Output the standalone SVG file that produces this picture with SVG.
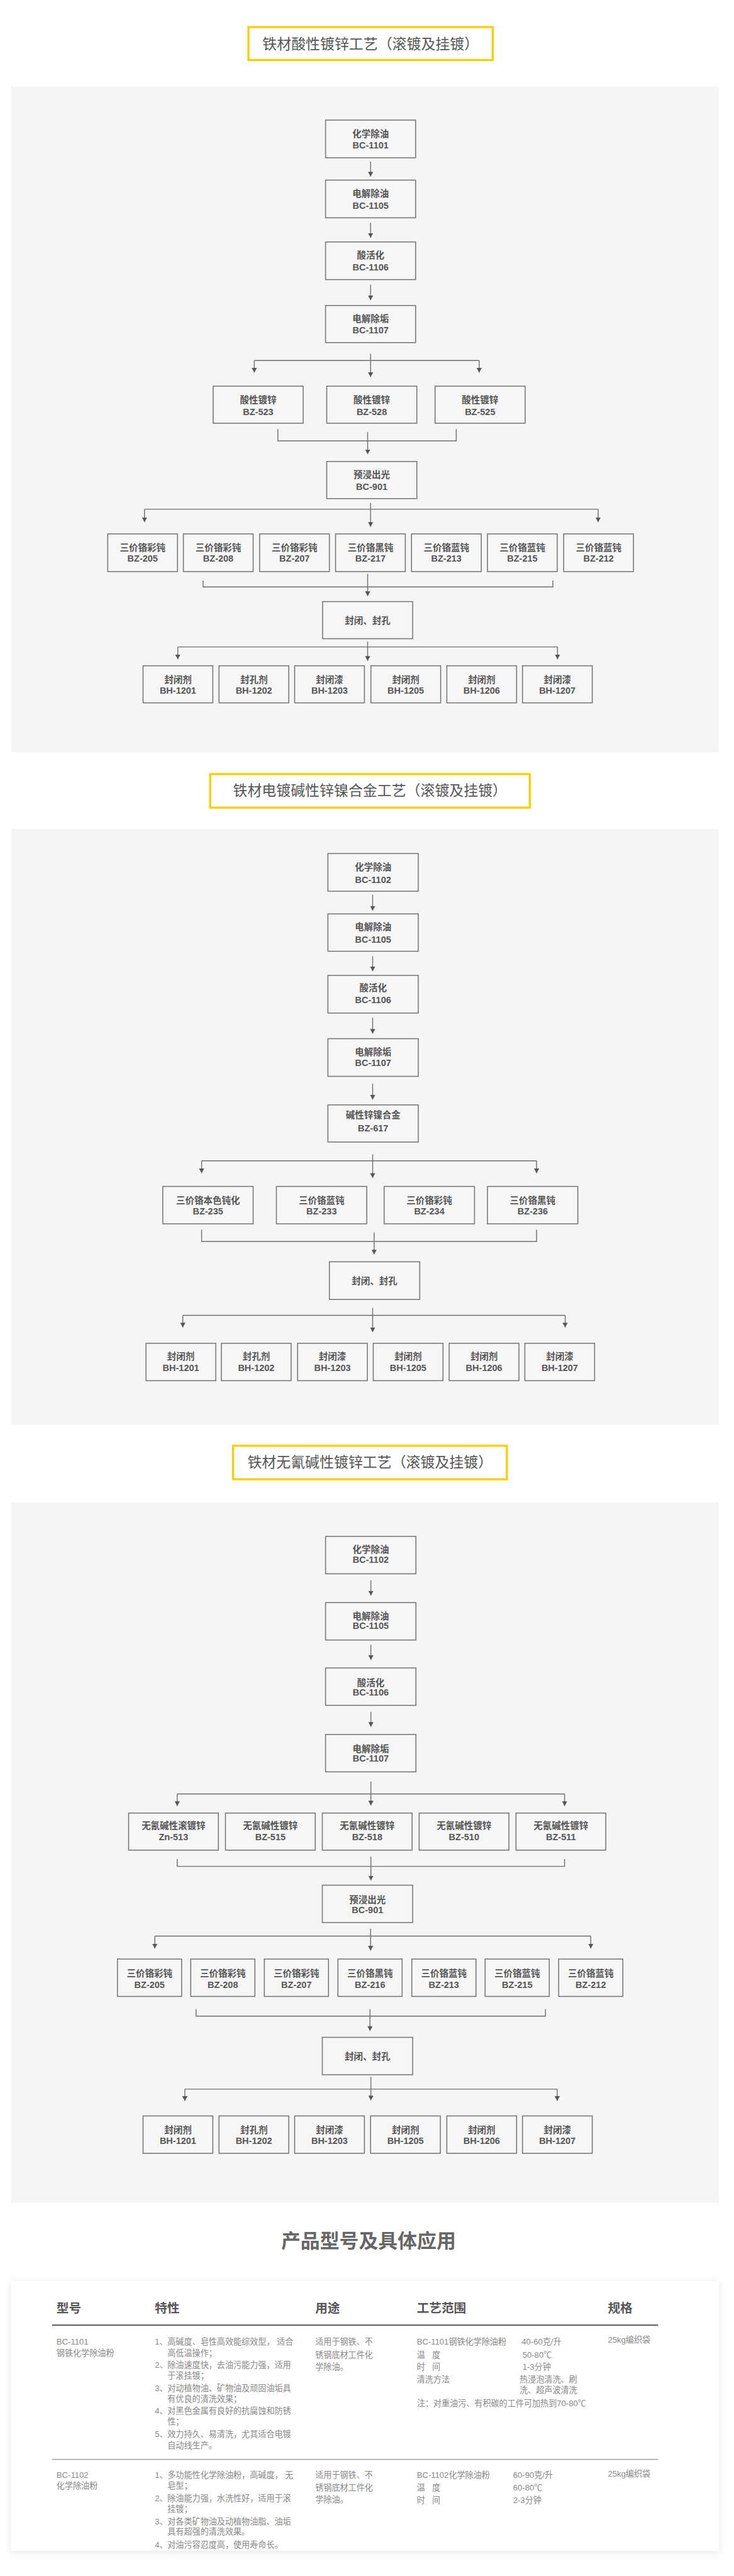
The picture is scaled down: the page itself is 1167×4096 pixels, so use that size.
<svg xmlns="http://www.w3.org/2000/svg" width="1167" height="4096" viewBox="0 0 1167 4096">
<style>
.panel{fill:#f5f5f5}
.tbox{fill:#fff;stroke:#FFCC00;stroke-width:3.5}
.ttl{font-family:'Liberation Sans','Noto Sans CJK SC',sans-serif;font-size:24.5px;fill:#555;text-anchor:middle}
.nb{fill:#f6f6f6;stroke:#727272;stroke-width:1.6}
.nt{font-family:'Liberation Sans','Noto Sans CJK SC',sans-serif;font-size:15.5px;font-weight:bold;fill:#555;text-anchor:middle}
.c{stroke:#6e6e6e;stroke-width:1.5;fill:none}
.a{marker-end:url(#ah)}
.h1{font-family:'Liberation Sans','Noto Sans CJK SC',sans-serif;font-size:33px;font-weight:bold;fill:#666;text-anchor:middle}
.th{font-family:'Liberation Sans','Noto Sans CJK SC',sans-serif;font-size:21px;font-weight:bold;fill:#555}
.td{font-family:'Liberation Sans','Noto Sans CJK SC',sans-serif;font-size:14px;fill:#888}
</style>
<defs>
<marker id="ah" viewBox="0 0 10 11" refX="10" refY="5.5" markerWidth="8" markerHeight="8.8" orient="auto" markerUnits="userSpaceOnUse"><path d="M0,0 L10,5.5 L0,11 z" fill="#555"/></marker>
<filter id="sh" x="-5%" y="-5%" width="110%" height="115%"><feDropShadow dx="0" dy="3" stdDeviation="7" flood-color="#000" flood-opacity="0.10"/></filter>
</defs>
<rect x="0" y="0" width="1167" height="4096" fill="#fff"/>
<g transform="scale(0.936)">
<g id="title1"><rect class="tbox" x="422" y="46" width="415" height="56"/><text class="ttl" x="629.5" y="83">铁材酸性镀锌工艺（滚镀及挂镀）</text></g>
<rect class="panel" x="19" y="147" width="1202" height="1131"/>
<g id="title2"><rect class="tbox" x="357" y="1315" width="543" height="57"/><text class="ttl" x="628.5" y="1352">铁材电镀碱性锌镍合金工艺（滚镀及挂镀）</text></g>
<rect class="panel" x="19" y="1408" width="1202" height="1012"/>
<g id="title3"><rect class="tbox" x="396" y="2456" width="465" height="57"/><text class="ttl" x="628.5" y="2493">铁材无氰碱性镀锌工艺（滚镀及挂镀）</text></g>
<rect class="panel" x="19" y="2552" width="1202" height="1190"/>

<g id="connectors">
<path class="c a" d="M629.5 274.5V300"/>
<path class="c a" d="M629.5 378.5V404"/>
<path class="c a" d="M629.5 483.5V510"/>
<path class="c a" d="M629.5 601V640.5"/>
<path class="c" d="M432 612.5H814"/>
<path class="c a" d="M432 612.5V633"/>
<path class="c a" d="M814 612.5V633"/>
<path class="c" d="M472 729V749H775V729"/>
<path class="c a" d="M624.5 734V771.5"/>
<path class="c a" d="M629.5 854.5V895"/>
<path class="c" d="M245.5 865H1016"/>
<path class="c a" d="M245.5 865V887"/>
<path class="c a" d="M1016 865V887"/>
<path class="c" d="M345 986V997H939V986"/>
<path class="c a" d="M624.5 975V1012.5"/>
<path class="c a" d="M624.5 1090V1122.5"/>
<path class="c" d="M302 1099H947"/>
<path class="c a" d="M302 1099V1120"/>
<path class="c a" d="M947 1099V1120"/>

<path class="c a" d="M633 1520V1547"/>
<path class="c a" d="M633 1624.5V1650"/>
<path class="c a" d="M633 1729V1756"/>
<path class="c a" d="M633 1841V1868"/>
<path class="c a" d="M633 1961V2001"/>
<path class="c" d="M342.5 1972H911.5"/>
<path class="c a" d="M342.5 1972V1993"/>
<path class="c a" d="M911.5 1972V1993"/>
<path class="c" d="M342.5 2089V2109H911.5V2089"/>
<path class="c a" d="M635.5 2093.5V2131"/>
<path class="c a" d="M633 2222V2263"/>
<path class="c" d="M310.5 2234.5H960"/>
<path class="c a" d="M310.5 2234.5V2255"/>
<path class="c a" d="M960 2234.5V2255"/>

<path class="c a" d="M630 2684.5V2710.5"/>
<path class="c a" d="M630 2794V2820"/>
<path class="c a" d="M630 2908V2933.5"/>
<path class="c a" d="M630 3026.5V3067"/>
<path class="c" d="M301 3047.5H959"/>
<path class="c a" d="M301 3047.5V3068"/>
<path class="c a" d="M959 3047.5V3068"/>
<path class="c" d="M301 3158V3170.5H959V3158"/>
<path class="c a" d="M630 3154V3194.5"/>
<path class="c a" d="M629.5 3276.5V3313.5"/>
<path class="c" d="M263 3289H1003.5"/>
<path class="c a" d="M263 3289V3310"/>
<path class="c a" d="M1003.5 3289V3310"/>
<path class="c" d="M333 3413V3425H926.5V3413"/>
<path class="c a" d="M628.5 3413V3450"/>
<path class="c a" d="M630 3528V3568"/>
<path class="c" d="M314 3549H946.5"/>
<path class="c a" d="M314 3549V3569"/>
<path class="c a" d="M946.5 3549V3569"/>
</g>

<g id="s1-n1"><rect class="nb" x="553" y="204" width="153" height="64"/><text class="nt"><tspan x="629.5" y="232.5">化学除油</tspan><tspan x="629.5" y="252.5">BC-1101</tspan></text></g>
<g id="s1-n2"><rect class="nb" x="553" y="306" width="153" height="64"/><text class="nt"><tspan x="629.5" y="334.5">电解除油</tspan><tspan x="629.5" y="354.5">BC-1105</tspan></text></g>
<g id="s1-n3"><rect class="nb" x="553" y="411" width="153" height="64"/><text class="nt"><tspan x="629.5" y="439.5">酸活化</tspan><tspan x="629.5" y="459.5">BC-1106</tspan></text></g>
<g id="s1-n4"><rect class="nb" x="553" y="519" width="153" height="63"/><text class="nt"><tspan x="629.5" y="547">电解除垢</tspan><tspan x="629.5" y="566">BC-1107</tspan></text></g>
<g id="s1-a1"><rect class="nb" x="362" y="656" width="153" height="63"/><text class="nt"><tspan x="438.5" y="685">酸性镀锌</tspan><tspan x="438.5" y="705">BZ-523</tspan></text></g>
<g id="s1-a2"><rect class="nb" x="555" y="656" width="153" height="63"/><text class="nt"><tspan x="631.5" y="685">酸性镀锌</tspan><tspan x="631.5" y="705">BZ-528</tspan></text></g>
<g id="s1-a3"><rect class="nb" x="739" y="656" width="153" height="63"/><text class="nt"><tspan x="815.5" y="685">酸性镀锌</tspan><tspan x="815.5" y="705">BZ-525</tspan></text></g>
<g id="s1-p"><rect class="nb" x="555" y="784" width="153" height="63"/><text class="nt"><tspan x="631.5" y="812">预浸出光</tspan><tspan x="631.5" y="832">BC-901</tspan></text></g>
<g id="s1-b1"><rect class="nb" x="183" y="907" width="118.5" height="64"/><text class="nt"><tspan x="242.25" y="936">三价铬彩钝</tspan><tspan x="242.25" y="954.5">BZ-205</tspan></text></g>
<g id="s1-b2"><rect class="nb" x="311.5" y="907" width="118.5" height="64"/><text class="nt"><tspan x="370.75" y="936">三价铬彩钝</tspan><tspan x="370.75" y="954.5">BZ-208</tspan></text></g>
<g id="s1-b3"><rect class="nb" x="441" y="907" width="118.5" height="64"/><text class="nt"><tspan x="500.25" y="936">三价铬彩钝</tspan><tspan x="500.25" y="954.5">BZ-207</tspan></text></g>
<g id="s1-b4"><rect class="nb" x="570" y="907" width="118.5" height="64"/><text class="nt"><tspan x="629.25" y="936">三价铬黑钝</tspan><tspan x="629.25" y="954.5">BZ-217</tspan></text></g>
<g id="s1-b5"><rect class="nb" x="699" y="907" width="118.5" height="64"/><text class="nt"><tspan x="758.25" y="936">三价铬蓝钝</tspan><tspan x="758.25" y="954.5">BZ-213</tspan></text></g>
<g id="s1-b6"><rect class="nb" x="828" y="907" width="118.5" height="64"/><text class="nt"><tspan x="887.25" y="936">三价铬蓝钝</tspan><tspan x="887.25" y="954.5">BZ-215</tspan></text></g>
<g id="s1-b7"><rect class="nb" x="957.5" y="907" width="118.5" height="64"/><text class="nt"><tspan x="1016.75" y="936">三价铬蓝钝</tspan><tspan x="1016.75" y="954.5">BZ-212</tspan></text></g>
<g id="s1-s"><rect class="nb" x="548" y="1022" width="153" height="63"/><text class="nt" x="624.5" y="1059.5">封闭、封孔</text></g>
<g id="s1-c1"><rect class="nb" x="243" y="1131" width="118.5" height="63"/><text class="nt"><tspan x="302.25" y="1160">封闭剂</tspan><tspan x="302.25" y="1178.5">BH-1201</tspan></text></g>
<g id="s1-c2"><rect class="nb" x="372" y="1131" width="118.5" height="63"/><text class="nt"><tspan x="431.25" y="1160">封孔剂</tspan><tspan x="431.25" y="1178.5">BH-1202</tspan></text></g>
<g id="s1-c3"><rect class="nb" x="500.5" y="1131" width="118.5" height="63"/><text class="nt"><tspan x="559.75" y="1160">封闭漆</tspan><tspan x="559.75" y="1178.5">BH-1203</tspan></text></g>
<g id="s1-c4"><rect class="nb" x="630" y="1131" width="118.5" height="63"/><text class="nt"><tspan x="689.25" y="1160">封闭剂</tspan><tspan x="689.25" y="1178.5">BH-1205</tspan></text></g>
<g id="s1-c5"><rect class="nb" x="759" y="1131" width="118.5" height="63"/><text class="nt"><tspan x="818.25" y="1160">封闭剂</tspan><tspan x="818.25" y="1178.5">BH-1206</tspan></text></g>
<g id="s1-c6"><rect class="nb" x="887.5" y="1131" width="118.5" height="63"/><text class="nt"><tspan x="946.75" y="1160">封闭漆</tspan><tspan x="946.75" y="1178.5">BH-1207</tspan></text></g>

<g id="s2-n1"><rect class="nb" x="557" y="1450" width="153.5" height="64"/><text class="nt"><tspan x="633.75" y="1479">化学除油</tspan><tspan x="633.75" y="1499.5">BC-1102</tspan></text></g>
<g id="s2-n2"><rect class="nb" x="557" y="1552.5" width="153.5" height="63.5"/><text class="nt"><tspan x="633.75" y="1580.5">电解除油</tspan><tspan x="633.75" y="1601">BC-1105</tspan></text></g>
<g id="s2-n3"><rect class="nb" x="557" y="1657" width="153.5" height="64"/><text class="nt"><tspan x="633.75" y="1684">酸活化</tspan><tspan x="633.75" y="1704">BC-1106</tspan></text></g>
<g id="s2-n4"><rect class="nb" x="557" y="1764.5" width="153.5" height="64"/><text class="nt"><tspan x="633.75" y="1792.5">电解除垢</tspan><tspan x="633.75" y="1810.5">BC-1107</tspan></text></g>
<g id="s2-n5"><rect class="nb" x="557" y="1877" width="153.5" height="63"/><text class="nt"><tspan x="633.75" y="1900">碱性锌镍合金</tspan><tspan x="633.75" y="1922">BZ-617</tspan></text></g>
<g id="s2-d1"><rect class="nb" x="276.5" y="2015.5" width="153.5" height="63.5"/><text class="nt"><tspan x="353.25" y="2044.5">三价铬本色钝化</tspan><tspan x="353.25" y="2063">BZ-235</tspan></text></g>
<g id="s2-d2"><rect class="nb" x="469.5" y="2015.5" width="153.5" height="63.5"/><text class="nt"><tspan x="546.25" y="2044.5">三价铬蓝钝</tspan><tspan x="546.25" y="2063">BZ-233</tspan></text></g>
<g id="s2-d3"><rect class="nb" x="652.5" y="2015.5" width="153.5" height="63.5"/><text class="nt"><tspan x="729.25" y="2044.5">三价铬彩钝</tspan><tspan x="729.25" y="2063">BZ-234</tspan></text></g>
<g id="s2-d4"><rect class="nb" x="828" y="2015.5" width="153.5" height="63.5"/><text class="nt"><tspan x="904.75" y="2044.5">三价铬黑钝</tspan><tspan x="904.75" y="2063">BZ-236</tspan></text></g>
<g id="s2-s"><rect class="nb" x="559.5" y="2143.5" width="153.5" height="64"/><text class="nt" x="636.25" y="2181.5">封闭、封孔</text></g>
<g id="s2-e1"><rect class="nb" x="248" y="2282" width="118.5" height="63.5"/><text class="nt"><tspan x="307.25" y="2309.5">封闭剂</tspan><tspan x="307.25" y="2329">BH-1201</tspan></text></g>
<g id="s2-e2"><rect class="nb" x="376" y="2282" width="118.5" height="63.5"/><text class="nt"><tspan x="435.25" y="2309.5">封孔剂</tspan><tspan x="435.25" y="2329">BH-1202</tspan></text></g>
<g id="s2-e3"><rect class="nb" x="505.5" y="2282" width="118.5" height="63.5"/><text class="nt"><tspan x="564.75" y="2309.5">封闭漆</tspan><tspan x="564.75" y="2329">BH-1203</tspan></text></g>
<g id="s2-e4"><rect class="nb" x="634" y="2282" width="118.5" height="63.5"/><text class="nt"><tspan x="693.25" y="2309.5">封闭剂</tspan><tspan x="693.25" y="2329">BH-1205</tspan></text></g>
<g id="s2-e5"><rect class="nb" x="763" y="2282" width="118.5" height="63.5"/><text class="nt"><tspan x="822.25" y="2309.5">封闭剂</tspan><tspan x="822.25" y="2329">BH-1206</tspan></text></g>
<g id="s2-e6"><rect class="nb" x="891.5" y="2282" width="118.5" height="63.5"/><text class="nt"><tspan x="950.75" y="2309.5">封闭漆</tspan><tspan x="950.75" y="2329">BH-1207</tspan></text></g>

<g id="s3-n1"><rect class="nb" x="553" y="2610" width="153.5" height="63.5"/><text class="nt"><tspan x="629.75" y="2638">化学除油</tspan><tspan x="629.75" y="2654.5">BC-1102</tspan></text></g>
<g id="s3-n2"><rect class="nb" x="553" y="2722.5" width="153.5" height="63.5"/><text class="nt"><tspan x="629.75" y="2751">电解除油</tspan><tspan x="629.75" y="2767">BC-1105</tspan></text></g>
<g id="s3-n3"><rect class="nb" x="553" y="2833.5" width="153.5" height="63.5"/><text class="nt"><tspan x="629.75" y="2864.5">酸活化</tspan><tspan x="629.75" y="2880.5">BC-1106</tspan></text></g>
<g id="s3-n4"><rect class="nb" x="553" y="2946.5" width="153.5" height="63.5"/><text class="nt"><tspan x="629.75" y="2976">电解除垢</tspan><tspan x="629.75" y="2992.5">BC-1107</tspan></text></g>
<g id="s3-f1"><rect class="nb" x="218.5" y="3080" width="152.5" height="63"/><text class="nt"><tspan x="294.75" y="3107">无氰碱性滚镀锌</tspan><tspan x="294.75" y="3126.5">Zn-513</tspan></text></g>
<g id="s3-f2"><rect class="nb" x="383" y="3080" width="152.5" height="63"/><text class="nt"><tspan x="459.25" y="3107">无氰碱性镀锌</tspan><tspan x="459.25" y="3126.5">BZ-515</tspan></text></g>
<g id="s3-f3"><rect class="nb" x="547.5" y="3080" width="152.5" height="63"/><text class="nt"><tspan x="623.75" y="3107">无氰碱性镀锌</tspan><tspan x="623.75" y="3126.5">BZ-518</tspan></text></g>
<g id="s3-f4"><rect class="nb" x="712" y="3080" width="152.5" height="63"/><text class="nt"><tspan x="788.25" y="3107">无氰碱性镀锌</tspan><tspan x="788.25" y="3126.5">BZ-510</tspan></text></g>
<g id="s3-f5"><rect class="nb" x="876.5" y="3080" width="152.5" height="63"/><text class="nt"><tspan x="952.75" y="3107">无氰碱性镀锌</tspan><tspan x="952.75" y="3126.5">BZ-511</tspan></text></g>
<g id="s3-p"><rect class="nb" x="547.5" y="3202.5" width="153.5" height="63.5"/><text class="nt"><tspan x="624.25" y="3233">预浸出光</tspan><tspan x="624.25" y="3250">BC-901</tspan></text></g>
<g id="s3-g1"><rect class="nb" x="199.5" y="3328" width="109" height="63.5"/><text class="nt"><tspan x="254" y="3358">三价铬彩钝</tspan><tspan x="254" y="3377">BZ-205</tspan></text></g>
<g id="s3-g2"><rect class="nb" x="324" y="3328" width="109" height="63.5"/><text class="nt"><tspan x="378.5" y="3358">三价铬彩钝</tspan><tspan x="378.5" y="3377">BZ-208</tspan></text></g>
<g id="s3-g3"><rect class="nb" x="449" y="3328" width="109" height="63.5"/><text class="nt"><tspan x="503.5" y="3358">三价铬彩钝</tspan><tspan x="503.5" y="3377">BZ-207</tspan></text></g>
<g id="s3-g4"><rect class="nb" x="574" y="3328" width="109" height="63.5"/><text class="nt"><tspan x="628.5" y="3358">三价铬黑钝</tspan><tspan x="628.5" y="3377">BZ-216</tspan></text></g>
<g id="s3-g5"><rect class="nb" x="699.5" y="3328" width="109" height="63.5"/><text class="nt"><tspan x="754" y="3358">三价铬蓝钝</tspan><tspan x="754" y="3377">BZ-213</tspan></text></g>
<g id="s3-g6"><rect class="nb" x="824" y="3328" width="109" height="63.5"/><text class="nt"><tspan x="878.5" y="3358">三价铬蓝钝</tspan><tspan x="878.5" y="3377">BZ-215</tspan></text></g>
<g id="s3-g7"><rect class="nb" x="949" y="3328" width="109" height="63.5"/><text class="nt"><tspan x="1003.5" y="3358">三价铬蓝钝</tspan><tspan x="1003.5" y="3377">BZ-212</tspan></text></g>
<g id="s3-s"><rect class="nb" x="547.5" y="3461" width="153.5" height="63.5"/><text class="nt" x="624.25" y="3499">封闭、封孔</text></g>
<g id="s3-h1"><rect class="nb" x="243" y="3594.5" width="118.5" height="63.5"/><text class="nt"><tspan x="302.25" y="3623.5">封闭剂</tspan><tspan x="302.25" y="3642">BH-1201</tspan></text></g>
<g id="s3-h2"><rect class="nb" x="372" y="3594.5" width="118.5" height="63.5"/><text class="nt"><tspan x="431.25" y="3623.5">封孔剂</tspan><tspan x="431.25" y="3642">BH-1202</tspan></text></g>
<g id="s3-h3"><rect class="nb" x="500.5" y="3594.5" width="118.5" height="63.5"/><text class="nt"><tspan x="559.75" y="3623.5">封闭漆</tspan><tspan x="559.75" y="3642">BH-1203</tspan></text></g>
<g id="s3-h4"><rect class="nb" x="629.5" y="3594.5" width="118.5" height="63.5"/><text class="nt"><tspan x="688.75" y="3623.5">封闭剂</tspan><tspan x="688.75" y="3642">BH-1205</tspan></text></g>
<g id="s3-h5"><rect class="nb" x="759" y="3594.5" width="118.5" height="63.5"/><text class="nt"><tspan x="818.25" y="3623.5">封闭剂</tspan><tspan x="818.25" y="3642">BH-1206</tspan></text></g>
<g id="s3-h6"><rect class="nb" x="887.5" y="3594.5" width="118.5" height="63.5"/><text class="nt"><tspan x="946.75" y="3623.5">封闭漆</tspan><tspan x="946.75" y="3642">BH-1207</tspan></text></g>

<g id="table">
<text class="h1" x="626" y="3818.5">产品型号及具体应用</text>
<rect x="19" y="3875" width="1202" height="458" fill="#fff" filter="url(#sh)"/>
<text class="th" x="96" y="3928">型号</text>
<text class="th" x="263" y="3928">特性</text>
<text class="th" x="535.5" y="3928">用途</text>
<text class="th" x="708" y="3928">工艺范围</text>
<text class="th" x="1032.5" y="3928">规格</text>
<line x1="88.5" y1="3950" x2="1118" y2="3950" stroke="#666" stroke-width="2.5"/>
<line x1="88.5" y1="4178" x2="1118" y2="4178" stroke="#aaa" stroke-width="2"/>
<g class="td">
<text x="96" y="3983">BC-1101</text>
<text x="96" y="4002">钢铁化学除油粉</text>
<text y="3983"><tspan x="263">1、</tspan><tspan x="284.5">高碱度、皂性高效能综效型， 适合</tspan></text>
<text x="284.5" y="4002">高低温操作；</text>
<text y="4022.5"><tspan x="263">2、</tspan><tspan x="284.5">除油速度快，去油污能力强，适用</tspan></text>
<text x="284.5" y="4040.5">于滚挂镀；</text>
<text y="4061.5"><tspan x="263">3、</tspan><tspan x="284.5">对动植物油、矿物油及顽固油垢具</tspan></text>
<text x="284.5" y="4080">有优良的清洗效果；</text>
<text y="4100.5"><tspan x="263">4、</tspan><tspan x="284.5">对黑色金属有良好的抗腐蚀和防锈</tspan></text>
<text x="284.5" y="4118.5">性；</text>
<text y="4140"><tspan x="263">5、</tspan><tspan x="284.5">效力持久、易清洗，尤其适合电镀</tspan></text>
<text x="284.5" y="4159">自动线生产。</text>
<text x="535.5" y="3983">适用于钢铁、不</text>
<text x="535.5" y="4005">锈钢底材工件化</text>
<text x="535.5" y="4025.5">学除油。</text>
<text x="708" y="3983">BC-1101钢铁化学除油粉</text>
<text x="886" y="3983">40-60克/升</text>
<text y="4005"><tspan x="708">温</tspan><tspan x="734">度</tspan></text>
<text x="887.5" y="4005">50-80℃</text>
<text y="4025.5"><tspan x="708">时</tspan><tspan x="734">间</tspan></text>
<text x="887.5" y="4025.5">1-3分钟</text>
<text x="708" y="4047.5">清洗方法</text>
<text x="882.5" y="4047.5">热浸泡清洗、刷</text>
<text x="882.5" y="4065.5">洗、超声波清洗</text>
<text x="708" y="4087.5">注：对重油污、有积碳的工件可加热到70-80℃</text>
<text x="1032.5" y="3980">25kg编织袋</text>

<text x="96" y="4209">BC-1102</text>
<text x="96" y="4228">化学除油粉</text>
<text y="4209"><tspan x="263">1、</tspan><tspan x="284.5">多功能性化学除油粉，高碱度， 无</tspan></text>
<text x="284.5" y="4228">皂型；</text>
<text y="4248.5"><tspan x="263">2、</tspan><tspan x="284.5">除油能力强，水洗性好，适用于滚</tspan></text>
<text x="284.5" y="4267">挂镀；</text>
<text y="4288"><tspan x="263">3、</tspan><tspan x="284.5">对各类矿物油及动植物油脂、油垢</tspan></text>
<text x="284.5" y="4306">具有超强的清洗效果。</text>
<text y="4328"><tspan x="263">4、</tspan><tspan x="284.5">对油污容忍度高，使用寿命长。</tspan></text>
<text x="535.5" y="4209">适用于钢铁、不</text>
<text x="535.5" y="4231">锈钢底材工件化</text>
<text x="535.5" y="4251">学除油。</text>
<text x="708" y="4209">BC-1102化学除油粉</text>
<text x="871.5" y="4209">60-90克/升</text>
<text y="4231"><tspan x="708">温</tspan><tspan x="734">度</tspan></text>
<text x="871.5" y="4231">60-80℃</text>
<text y="4252"><tspan x="708">时</tspan><tspan x="734">间</tspan></text>
<text x="871.5" y="4252">2-3分钟</text>
<text x="1032.5" y="4207">25kg编织袋</text>
</g>
</g>
</g>
</svg>
